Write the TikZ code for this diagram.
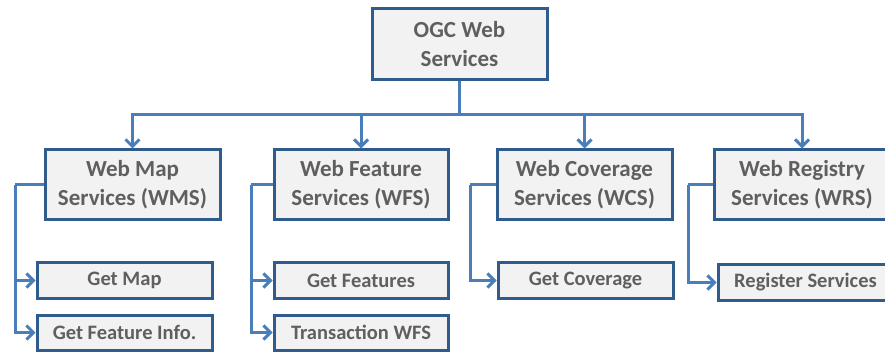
\documentclass[tikz,border=0pt]{standalone}
\usepackage{fontspec}
\setmainfont{Carlito}
\usetikzlibrary{arrows.meta}
\definecolor{boxline}{HTML}{2F5C8C}
\definecolor{connline}{HTML}{4A7EBB}
\definecolor{boxfill}{HTML}{F2F2F2}
\definecolor{txtgray}{HTML}{5F5F5F}
\tikzset{
  mainbox/.style={draw=boxline, line width=3pt, fill=boxfill, text=txtgray,
    font=\fontsize{23}{29}\selectfont\bfseries, align=center, inner sep=0pt,
    minimum width=175pt, minimum height=70pt},
  subbox/.style={draw=boxline, line width=3pt, fill=boxfill, text=txtgray,
    font=\fontsize{20.5}{24}\selectfont\bfseries, align=center, inner sep=0pt,
    minimum width=175pt, minimum height=35pt},
  conn/.style={draw=connline, line width=3pt},
  arr/.style={conn, -{Straight Barb[length=7pt,width=14pt,line width=3pt]}}
}
\begin{document}
\begin{tikzpicture}[x=1pt,y=-1pt]
\useasboundingbox (0,0) rectangle (885,352);
\clip (0,0) rectangle (885,352);
% top
\node[mainbox, minimum height=71pt] (ogc) at (459.5,44.5) {OGC Web\\Services};
% level 1
\node[mainbox] (wms) at (132.5,185) {Web Map\\Services (WMS)};
\node[mainbox, minimum width=174pt] (wfs) at (361,185) {Web Feature\\Services (WFS)};
\node[mainbox] (wcs) at (584.5,185) {Web Coverage\\Services (WCS)};
\node[mainbox] (wrs) at (802,185) {Web Registry\\Services (WRS)};
% level 2
\node[subbox] (gm) at (124.5,280.5) {Get Map};
\node[subbox] (gfi) at (124.5,332.5) {Get Feature Info.};
\node[subbox, minimum width=174pt] (gf) at (361,280.5) {Get Features};
\node[subbox, minimum width=174pt] (twfs) at (361,332.5) {Transaction WFS};
\node[subbox] (gc) at (585.5,280.5) {Get Coverage};
\node[subbox] (rs) at (805.5,282.5) {Register Services};
% connectors from top
\coordinate (hub) at (459.5,115);
\draw[conn] (ogc.south) -- (hub);
\draw[arr] (hub) -| (wms.north);
\draw[arr] (hub) -| (wfs.north);
\draw[arr] (hub) -| (wcs.north);
\draw[arr] (hub) -| (wrs.north);
% branches
\coordinate (b1) at (15,185);
\coordinate (b2) at (251,185);
\coordinate (b3) at (470,185);
\coordinate (b4) at (688,185);
\draw[conn] (wms.west) -- (b1);
\draw[arr] (b1) |- (gm.west);
\draw[arr] (b1) |- (gfi.west);
\draw[conn] (wfs.west) -- (b2);
\draw[arr] (b2) |- (gf.west);
\draw[arr] (b2) |- (twfs.west);
\draw[conn] (wcs.west) -- (b3);
\draw[arr] (b3) |- (gc.west);
\draw[conn] (wrs.west) -- (b4);
\draw[arr] (b4) |- (rs.west);
\end{tikzpicture}
\end{document}
